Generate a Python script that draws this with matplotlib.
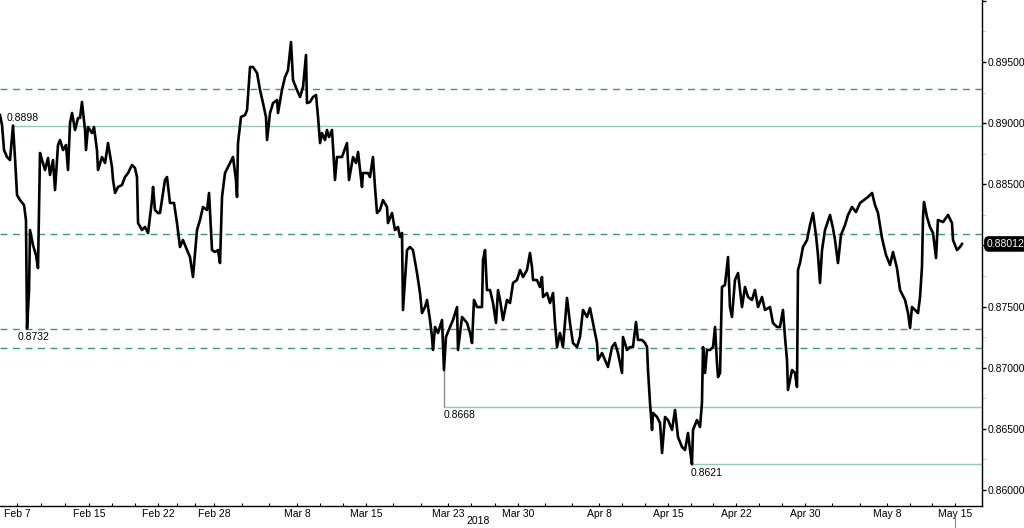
import matplotlib
matplotlib.use('Agg')
import matplotlib.pyplot as plt
import matplotlib.ticker as mticker
import matplotlib.transforms as mtrans

plt.rcParams['font.family'] = ['Liberation Sans', 'DejaVu Sans']

# x = trading days counted from Feb 7 2018, y = price
days = [
    -2.08, -1.87, -1.66, -1.35, -1.04, -0.73, -0.52, -0.31, 0.00, 0.42, 0.62, 0.73, 0.94, 1.04, 1.35,
    1.66, 1.87, 2.08, 2.29, 2.60, 2.91, 3.12, 3.43, 3.64, 3.95, 4.16, 4.47, 4.78, 4.99, 5.20,
    5.41, 5.72, 6.03, 6.24, 6.44, 6.76, 6.86, 7.07, 7.48, 7.69, 8.00, 8.11, 8.52, 8.84, 9.15,
    9.56, 9.67, 9.88, 10.19, 10.60, 10.91, 11.23, 11.64, 11.95, 12.16, 12.27, 12.68, 12.99, 13.31, 13.72,
    13.83, 14.03, 14.35, 14.55, 15.07, 15.28, 15.59, 16.01, 16.32, 16.63, 16.94, 17.36, 17.67, 17.98, 18.40,
    18.71, 19.02, 19.44, 19.65, 19.96, 20.27, 20.58, 20.79, 21.00, 21.31, 21.83, 22.14, 22.45, 22.56, 22.66,
    22.97, 23.39, 23.60, 23.91, 24.22, 24.64, 24.95, 25.26, 25.57, 25.68, 25.99, 26.30, 26.72, 26.82, 27.23,
    27.55, 27.86, 28.17, 28.38, 28.79, 29.11, 29.42, 29.73, 29.83, 30.15, 30.46, 30.77, 30.98, 31.19, 31.39,
    31.70, 31.91, 32.12, 32.43, 32.54, 32.74, 32.95, 33.47, 33.99, 34.20, 34.62, 34.93, 35.14, 35.55, 35.65,
    36.17, 36.38, 36.69, 36.90, 37.11, 37.42, 37.73, 38.15, 38.25, 38.67, 38.98, 39.29, 39.50, 39.71, 39.81,
    40.02, 40.23, 40.54, 40.85, 41.27, 41.58, 41.79, 42.10, 42.31, 42.62, 42.83, 42.93, 43.14, 43.45, 43.87,
    44.07, 44.28, 44.70, 45.01, 45.43, 45.53, 45.95, 46.47, 46.78, 46.99, 47.19, 47.51, 48.02, 48.13, 48.34,
    48.54, 48.86, 49.17, 49.48, 49.69, 49.90, 50.21, 50.62, 50.94, 51.25, 51.66, 51.98, 52.29, 52.70, 53.01,
    53.22, 53.33, 53.74, 54.05, 54.26, 54.37, 54.78, 55.09, 55.41, 55.61, 55.82, 56.13, 56.44, 56.86, 57.17,
    57.48, 57.90, 58.21, 58.52, 58.94, 59.25, 59.56, 59.98, 60.08, 60.50, 60.81, 61.12, 61.54, 61.85, 62.16,
    62.58, 62.68, 63.10, 63.41, 63.72, 64.03, 64.24, 64.66, 64.97, 65.18, 65.28, 65.49, 65.70, 65.80, 66.22,
    66.53, 66.74, 67.05, 67.36, 67.78, 68.09, 68.40, 68.81, 69.13, 69.44, 69.65, 69.85, 69.96, 70.37, 70.69,
    70.89, 71.00, 71.21, 71.41, 71.73, 72.04, 72.25, 72.45, 72.56, 72.77, 72.97, 73.28, 73.60, 73.80, 74.01,
    74.32, 74.64, 75.05, 75.36, 75.68, 76.09, 76.40, 76.72, 77.13, 77.44, 77.96, 78.27, 78.69, 79.00, 79.31,
    79.52, 79.73, 79.83, 80.25, 80.56, 80.77, 80.87, 81.08, 81.39, 81.81, 82.12, 82.43, 82.74, 82.95, 83.16,
    83.37, 83.68, 84.20, 84.51, 84.72, 85.03, 85.34, 85.76, 86.07, 86.49, 86.90, 87.32, 87.73, 88.15, 88.57,
    88.88, 89.19, 89.60, 90.02, 90.44, 90.75, 91.16, 91.48, 92.00, 92.31, 92.52, 92.72, 93.04, 93.35, 93.56,
    93.76, 93.87, 93.97, 94.28, 94.59, 94.91, 95.22, 95.42, 95.95, 96.47, 96.88, 96.99, 97.40, 97.71, 97.92,
]
prices = [
    0.89066, 0.88985, 0.88780, 0.88723, 0.88698, 0.88980, 0.88715, 0.88412, 0.88371, 0.88330, 0.88208, 0.87320, 0.87635, 0.88126, 0.88003,
    0.87922, 0.87815, 0.88756, 0.88698, 0.88617, 0.88715, 0.88576, 0.88698, 0.88453, 0.88821, 0.88862, 0.88780, 0.88821, 0.88617, 0.89001,
    0.89083, 0.88944, 0.89042, 0.89042, 0.89173, 0.88944, 0.88780, 0.88968, 0.88919, 0.88968, 0.88780, 0.88617, 0.88723, 0.88674, 0.88837,
    0.88641, 0.88535, 0.88429, 0.88478, 0.88494, 0.88559, 0.88592, 0.88658, 0.88633, 0.88559, 0.88183, 0.88126, 0.88151, 0.88101, 0.88371,
    0.88478, 0.88290, 0.88265, 0.88265, 0.88535, 0.88559, 0.88347, 0.88347, 0.88183, 0.87987, 0.88044, 0.87962, 0.87905, 0.87742, 0.88126,
    0.88208, 0.88314, 0.88290, 0.88429, 0.87962, 0.87946, 0.87962, 0.87856, 0.88396, 0.88592, 0.88674, 0.88723, 0.88535, 0.88396, 0.88837,
    0.89050, 0.89066, 0.89107, 0.89459, 0.89459, 0.89410, 0.89271, 0.89164, 0.89050, 0.88862, 0.89083, 0.89164, 0.89189, 0.89083, 0.89271,
    0.89377, 0.89434, 0.89663, 0.89353, 0.89271, 0.89214, 0.89295, 0.89557, 0.89164, 0.89173, 0.89214, 0.89230, 0.89050, 0.88837, 0.88919,
    0.88862, 0.88944, 0.88886, 0.88944, 0.88805, 0.88535, 0.88723, 0.88723, 0.88837, 0.88535, 0.88723, 0.88674, 0.88764, 0.88478, 0.88592,
    0.88592, 0.88559, 0.88723, 0.88478, 0.88265, 0.88290, 0.88371, 0.88314, 0.88183, 0.88265, 0.88126, 0.88151, 0.88069, 0.88101, 0.87472,
    0.87717, 0.87962, 0.87987, 0.87962, 0.87774, 0.87611, 0.87447, 0.87496, 0.87554, 0.87390, 0.87251, 0.87145, 0.87333, 0.87284, 0.87390,
    0.86981, 0.87251, 0.87333, 0.87390, 0.87496, 0.87145, 0.87415, 0.87366, 0.87284, 0.87202, 0.87554, 0.87496, 0.87496, 0.87881, 0.87962,
    0.87635, 0.87635, 0.87529, 0.87366, 0.87635, 0.87554, 0.87390, 0.87554, 0.87529, 0.87693, 0.87717, 0.87799, 0.87742, 0.87799, 0.87938,
    0.87823, 0.87717, 0.87717, 0.87660, 0.87742, 0.87578, 0.87611, 0.87529, 0.87611, 0.87366, 0.87169, 0.87284, 0.87169, 0.87570, 0.87366,
    0.87202, 0.87169, 0.87251, 0.87472, 0.87415, 0.87488, 0.87366, 0.87202, 0.87063, 0.87120, 0.87063, 0.87006, 0.87169, 0.87202, 0.87120,
    0.86957, 0.87251, 0.87145, 0.87169, 0.87169, 0.87374, 0.87227, 0.87227, 0.87202, 0.87169, 0.86981, 0.86711, 0.86491, 0.86630, 0.86597,
    0.86548, 0.86303, 0.86597, 0.86572, 0.86491, 0.86654, 0.86433, 0.86352, 0.86327, 0.86466, 0.86327, 0.86210, 0.86491, 0.86572, 0.86515,
    0.86711, 0.87169, 0.86957, 0.87145, 0.87145, 0.87169, 0.87333, 0.87038, 0.86924, 0.86957, 0.87660, 0.87676, 0.87905, 0.87496, 0.87415,
    0.87717, 0.87774, 0.87496, 0.87660, 0.87578, 0.87554, 0.87635, 0.87496, 0.87578, 0.87472, 0.87496, 0.87366, 0.87333, 0.87333, 0.87472,
    0.87251, 0.87063, 0.86818, 0.86981, 0.86957, 0.86842, 0.87799, 0.87856, 0.87987, 0.88044, 0.88167, 0.88265, 0.88085, 0.87922, 0.87693,
    0.87962, 0.88126, 0.88249, 0.88142, 0.88044, 0.87856, 0.88085, 0.88167, 0.88249, 0.88314, 0.88273, 0.88347, 0.88371, 0.88396, 0.88429,
    0.88330, 0.88265, 0.88061, 0.87922, 0.87840, 0.87946, 0.87815, 0.87635, 0.87554, 0.87447, 0.87325, 0.87496, 0.87472, 0.87447, 0.87578,
    0.87823, 0.88232, 0.88355, 0.88232, 0.88151, 0.88101, 0.87897, 0.88208, 0.88191, 0.88249, 0.88183, 0.88044, 0.87962, 0.87987, 0.88012,
]

# support / resistance levels
dashed_levels = [0.8928, 0.8809, 0.8732, 0.8716]
solid_levels = [0.8898, 0.8668, 0.8621]
solid_start = [-0.73, 44.07, 69.85]

# labelled extremes
label_values = [0.8898, 0.8732, 0.8668, 0.8621]
label_x = [-1.35, -0.21, 44.07, 69.75]
label_above = [True, False, False, False]

# flash low wick (Mar 23)
wick_x = 44.07
wick_low = 0.8668

tick_days = [-0.31, 7.17, 14.35, 20.17, 28.79, 35.97, 44.49, 51.77, 60.19, 67.36, 74.43, 81.60, 90.13, 97.19]
tick_labels = ['Feb 7', 'Feb 15', 'Feb 22', 'Feb 28', 'Mar 8', 'Mar 15', 'Mar 23', 'Mar 30',
               'Apr 8', 'Apr 15', 'Apr 22', 'Apr 30', 'May 8', 'May 15']
last_price = prices[-1]

dash_col = '#3f9680'
solid_col = '#93c9b5'

fig = plt.figure(figsize=(10.24, 5.28), dpi=100)
ax = fig.add_axes([0.0, 22 / 528, 982 / 1024, 506 / 528])

for lvl in dashed_levels:
    ax.axhline(lvl, color=dash_col, lw=1.0, ls=(0, (5, 4)), zorder=1)
for lvl, x0 in zip(solid_levels, solid_start):
    ax.hlines(lvl, x0, 100.0, color=solid_col, lw=1.0, zorder=1)

i_w = days.index(wick_x)
ax.vlines(wick_x, wick_low, prices[i_w], color='#888888', lw=1.0, zorder=2)

ax.plot(days, prices, color='black', lw=1.9, zorder=3)

for v, x, above in zip(label_values, label_x, label_above):
    off = 1.5 if above else -2.5
    ax.annotate('{:.4f}'.format(v), xy=(x, v), xytext=(0, off), textcoords='offset points',
                ha='left', va='bottom' if above else 'top', fontsize=7.5, color='black', zorder=4)

ax.set_xlim(-2.08, 100.0)
ax.set_ylim(0.85869, 0.90007)

ax.spines['left'].set_visible(False)
ax.spines['top'].set_visible(False)
ax.spines['right'].set_linewidth(1.0)
ax.spines['bottom'].set_linewidth(1.0)

# y labels: 0.88 hidden behind the last price tag, 0.90 off the top
ax.yaxis.tick_right()
yt = [0.86, 0.865, 0.87, 0.875, 0.88, 0.885, 0.89, 0.895, 0.90]
ax.set_yticks(yt)
ax.set_yticklabels(['' if v in (0.88, 0.90) else '{:.5f}'.format(v) for v in yt])
ax.yaxis.set_minor_locator(mticker.MultipleLocator(0.0025))
ax.tick_params(axis='y', which='major', direction='out', length=3, width=1, pad=1, labelsize=7.5)
ax.tick_params(axis='y', which='minor', direction='out', length=2, width=0.6, color='#bbbbbb')

ax.set_xticks(tick_days)
ax.set_xticklabels(tick_labels)
minor = []
for a, b in zip(tick_days[:-1], tick_days[1:]):
    minor += [a + (b - a) / 3, a + 2 * (b - a) / 3]
ax.set_xticks(minor, minor=True)
ax.tick_params(axis='x', which='both', direction='in', length=2, width=0.8, pad=2, labelsize=7.5)

ax.text(0.4866, -0.030, '2018', transform=ax.transAxes, ha='center', va='center', fontsize=7.5)

# last price tag
trans = mtrans.blended_transform_factory(ax.transAxes, ax.transData)
ax.text(1.005, last_price, '{:.5f}'.format(last_price), transform=trans, ha='left', va='center',
        fontsize=7.5, color='white', clip_on=False,
        bbox=dict(boxstyle='round,pad=0.2,rounding_size=0.4', fc='black', ec='black'))

# current time marker under the axis
trans_x = mtrans.blended_transform_factory(ax.transData, ax.transAxes)
ax.plot([tick_days[-1], tick_days[-1]], [-0.022, -0.05], color='#888888', lw=0.8,
        transform=trans_x, clip_on=False)

fig.savefig('out.png', dpi=100)
